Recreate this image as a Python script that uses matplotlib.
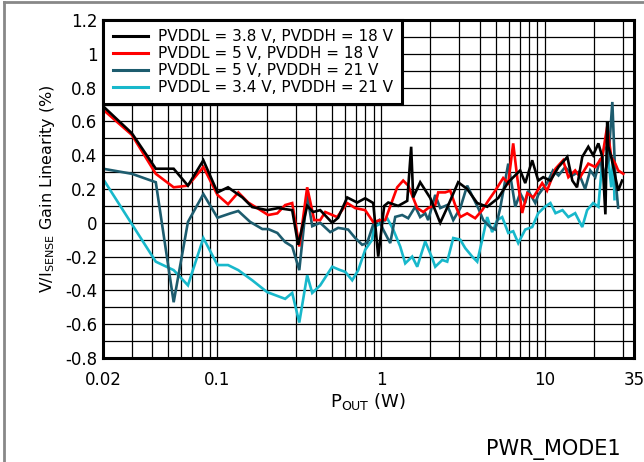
import matplotlib
matplotlib.use("Agg")
import matplotlib.pyplot as plt
from matplotlib.ticker import FixedLocator, LogLocator, MultipleLocator, NullFormatter
from matplotlib.lines import Line2D

plt.rcParams['font.family'] = ['DejaVu Sans']
plt.rcParams['mathtext.fontset'] = 'dejavusans'

# PVDDL = 3.8 V, PVDDH = 18 V
black_x = [0.02, 0.03, 0.042, 0.054, 0.066, 0.082, 0.1, 0.116, 0.142, 0.163, 0.201, 0.235,
           0.286, 0.311, 0.353, 0.384, 0.424, 0.502, 0.546, 0.62, 0.713, 0.798, 0.894, 0.959,
           1.043, 1.104, 1.27, 1.442, 1.524, 1.568, 1.73, 1.992, 2.293, 2.53, 2.952, 3.35,
           3.858, 4.44, 5.19, 5.97, 7.06, 7.58, 8.36, 9.1, 9.76, 10.8, 12.1, 13.7, 14.7, 15.7,
           16.9, 18.4, 19.7, 21.2, 22.4, 23.4, 24.0, 24.4, 25.4, 28.0, 29.6]
black_y = [0.69, 0.53, 0.32, 0.32, 0.22, 0.37, 0.18, 0.21, 0.15, 0.093, 0.075, 0.087,
           0.075, -0.13, 0.1, 0.064, 0.075, 0.0, 0.03, 0.15, 0.12, 0.145, 0.117, -0.2,
           0.1, 0.12, 0.1, 0.13, 0.45, 0.15, 0.24, 0.147, 0.0, 0.09, 0.24, 0.2,
           0.117, 0.095, 0.147, 0.24, 0.31, 0.235, 0.37, 0.25, 0.27, 0.25, 0.33, 0.39, 0.25, 0.21,
           0.39, 0.45, 0.4, 0.47, 0.39, 0.05, 0.6, 0.45, 0.39, 0.19, 0.25]

# PVDDL = 5 V, PVDDH = 18 V
red_x = [0.02, 0.03, 0.042, 0.054, 0.066, 0.082, 0.1, 0.116, 0.134, 0.154, 0.175, 0.204,
         0.232, 0.259, 0.286, 0.316, 0.353, 0.39, 0.424, 0.455, 0.538, 0.62, 0.694, 0.798,
         0.894, 0.986, 1.058, 1.252, 1.362, 1.462, 1.66, 1.806, 1.936, 2.138, 2.229, 2.46,
         2.64, 2.83, 3.04, 3.35, 3.75, 4.14, 4.5, 4.97, 5.56, 5.97, 6.4, 6.77, 7.26, 7.8,
         8.48, 9.62, 10.3, 11.6, 12.9, 13.9, 15.3, 16.4, 18.4, 20.3, 22.4, 24.0, 25.4,
         26.9, 28.0, 30.1]
red_y = [0.67, 0.52, 0.29, 0.21, 0.22, 0.33, 0.165, 0.11, 0.18, 0.12, 0.087, 0.046,
         0.056, 0.105, 0.117, -0.14, 0.21, 0.016, 0.016, 0.064, 0.034, 0.117, 0.087, 0.075,
         0.004, 0.016, 0.016, 0.21, 0.25, 0.22, 0.087, 0.064, 0.087, 0.105, 0.18, 0.18,
         0.19, 0.105, 0.034, 0.056, 0.027, 0.075, 0.13, 0.19, 0.265, 0.235, 0.47, 0.27, 0.058, 0.175,
         0.15, 0.235, 0.19, 0.32, 0.37, 0.27, 0.31, 0.27, 0.35, 0.33, 0.39, 0.57, 0.39,
         0.35, 0.31, 0.29]

# PVDDL = 5 V, PVDDH = 21 V
teal_x = [0.02, 0.03, 0.042, 0.054, 0.066, 0.082, 0.1, 0.12, 0.134, 0.158, 0.188, 0.204,
          0.232, 0.259, 0.286, 0.316, 0.353, 0.379, 0.424, 0.488, 0.546, 0.628, 0.694, 0.765,
          0.82, 0.894, 0.972, 1.028, 1.135, 1.218, 1.343, 1.462, 1.614, 1.73, 1.857, 1.936,
          2.138, 2.293, 2.53, 2.754, 3.04, 3.35, 3.648, 3.914, 4.2, 4.63, 4.97, 5.33, 5.97,
          6.31, 6.59, 7.06, 7.58, 7.91, 8.73, 9.1, 10.3, 11.2, 12.1, 13.3, 14.7, 16.0, 17.6,
          18.9, 20.3, 21.8, 22.7, 24.4, 25.8, 26.9, 28.0]
teal_y = [0.32, 0.29, 0.24, -0.47, 0.005, 0.17, 0.03, 0.056, 0.07, 0.006, -0.037, -0.037,
          -0.06, -0.114, -0.14, -0.28, 0.165, -0.02, 0.0, -0.055, -0.03, -0.04, -0.09, -0.13,
          -0.12, -0.01, 0.016, -0.04, -0.12, 0.035, 0.046, 0.027, 0.095, 0.034, 0.056, 0.016,
          0.165, 0.087, 0.105, 0.016, 0.087, 0.22, 0.147, 0.087, 0.016, -0.025, -0.04, 0.087, 0.35,
          0.21, 0.095, 0.175, 0.117, 0.19, 0.117, 0.165, 0.235, 0.31, 0.28, 0.33, 0.28, 0.3, 0.2,
          0.31, 0.27, 0.38, 0.27, 0.37, 0.715, 0.27, 0.09]

# PVDDL = 3.4 V, PVDDH = 21 V
cyan_x = [0.02, 0.042, 0.054, 0.066, 0.082, 0.1, 0.116, 0.134, 0.163, 0.201, 0.259, 0.286,
          0.316, 0.353, 0.379, 0.424, 0.502, 0.562, 0.603, 0.665, 0.724, 0.798, 0.881, 0.9,
          1.014, 1.088, 1.184, 1.306, 1.402, 1.546, 1.66, 1.857, 2.05, 2.138, 2.36, 2.53,
          2.754, 3.04, 3.26, 3.597, 3.858, 4.14, 4.44, 4.76, 5.11, 5.48, 5.97, 6.4, 6.87,
          7.58, 8.36, 9.1, 10.0, 10.8, 11.6, 12.8, 13.9, 15.3, 16.9, 18.1, 19.7, 21.2, 22.7,
          24.0, 25.4, 26.1, 26.6]
cyan_y = [0.26, -0.23, -0.28, -0.37, -0.09, -0.25, -0.25, -0.28, -0.34, -0.41, -0.45, -0.415,
          -0.59, -0.31, -0.415, -0.37, -0.26, -0.28, -0.29, -0.34, -0.28, -0.16, -0.1, -0.025,
          0.0, 0.027, -0.04, -0.14, -0.24, -0.2, -0.26, -0.11, -0.21, -0.26, -0.22, -0.23,
          -0.09, -0.1, -0.15, -0.2, -0.23, -0.1, 0.034, -0.055, 0.016, 0.034, -0.06, -0.05, -0.12,
          -0.04, -0.025, 0.057, 0.095, 0.117, 0.057, 0.075, 0.034, 0.057, -0.025, 0.075, 0.117, 0.095, 0.43,
          0.45, 0.21, 0.39, 0.14]

labels = ["PVDDL = 3.8 V, PVDDH = 18 V", "PVDDL = 5 V, PVDDH = 18 V",
          "PVDDL = 5 V, PVDDH = 21 V", "PVDDL = 3.4 V, PVDDH = 21 V"]
colors = ["black", "#ff0000", "#1d5c6e", "#18b8cb"]

x_ticks = [0.02, 0.1, 1, 10, 35]
x_ticklabels = ["0.02", "0.1", "1", "10", "35"]
y_ticks = [-0.8, -0.6, -0.4, -0.2, 0, 0.2, 0.4, 0.6, 0.8, 1, 1.2]
y_ticklabels = ["-0.8", "-0.6", "-0.4", "-0.2", "0", "0.2", "0.4", "0.6", "0.8", "1", "1.2"]


def main():
    f = plt.figure(figsize=(6.44, 4.62), dpi=100)
    axis = f.add_axes([0.16, 0.2251, 0.8245, 0.7316])

    series = [(black_x, black_y), (red_x, red_y), (teal_x, teal_y), (cyan_x, cyan_y)]
    # draw back to front like the original
    for (xs, ys), c in reversed(list(zip(series, colors))):
        axis.plot(xs, ys, color=c, lw=1.9, solid_joinstyle='miter', zorder=3)

    axis.set_xscale("log")
    axis.set_xlim(0.02, 35)
    axis.set_ylim(-0.8, 1.2)

    axis.xaxis.set_major_locator(FixedLocator(x_ticks))
    axis.set_xticklabels(x_ticklabels)
    axis.xaxis.set_minor_locator(LogLocator(base=10, subs=range(1, 10), numticks=20))
    axis.xaxis.set_minor_formatter(NullFormatter())
    axis.set_yticks(y_ticks)
    axis.set_yticklabels(y_ticklabels)
    axis.yaxis.set_minor_locator(MultipleLocator(0.1))

    axis.grid(which='both', axis='both', color='black', lw=0.9, zorder=1)
    axis.tick_params(which='both', length=0, labelsize=12)
    axis.tick_params(axis='x', pad=9)
    axis.tick_params(axis='y', pad=4)
    for s in axis.spines.values():
        s.set_linewidth(2.2)
        s.set_zorder(5)

    axis.set_xlabel(r"P$_{\mathrm{OUT}}$ (W)", fontsize=13, labelpad=2)
    axis.set_ylabel(r"V/I$_{\mathrm{SENSE}}$ Gain Linearity (%)", fontsize=11.5, labelpad=6)

    handles = [Line2D([], [], color=c, lw=2.2) for c in colors]
    leg = axis.legend(handles, labels, loc='upper left', bbox_to_anchor=(0, 1), borderaxespad=0,
                      fontsize=11, handlelength=2.3, handletextpad=0.65, labelspacing=0.12,
                      borderpad=0.62, fancybox=False, framealpha=1, edgecolor='black')
    leg.get_frame().set_linewidth(2.2)
    leg.set_zorder(6)

    f.text(0.963, 0.016, "PWR_MODE1", fontsize=15, ha='right', va='baseline')

    # grey border on top and left of the picture
    f.add_artist(Line2D([0.006, 1], [0.995, 0.995], color='#888888', lw=2, transform=f.transFigure))
    f.add_artist(Line2D([0.006, 0.006], [0, 0.995], color='#888888', lw=2, transform=f.transFigure))

    f.savefig("out.png", dpi=100)


if __name__ == "__main__":
    main()
